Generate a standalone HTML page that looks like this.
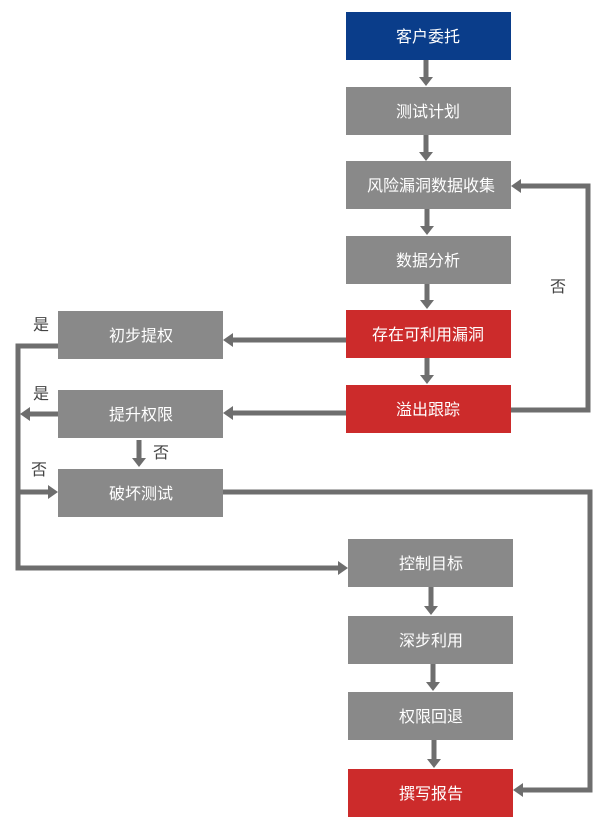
<!DOCTYPE html><html><head><meta charset="utf-8"><style>
body{margin:0;background:#fff}
svg text{font-family:"Liberation Sans","Noto Sans CJK SC",sans-serif;font-size:16px}
</style></head><body>
<svg width="612" height="832" xmlns="http://www.w3.org/2000/svg">
<g>
<rect x="346" y="12" width="165" height="48" fill="#0a3d8a"/>
<rect x="346" y="87" width="165" height="48" fill="#898989"/>
<rect x="346" y="161" width="165" height="48" fill="#898989"/>
<rect x="346" y="236" width="165" height="48" fill="#898989"/>
<rect x="346" y="310" width="165" height="48" fill="#cc2b2b"/>
<rect x="346" y="385" width="165" height="48" fill="#cc2b2b"/>
<rect x="58" y="311" width="165" height="48" fill="#898989"/>
<rect x="58" y="390" width="165" height="48" fill="#898989"/>
<rect x="58" y="469" width="165" height="48" fill="#898989"/>
<rect x="348" y="539" width="165" height="48" fill="#898989"/>
<rect x="348" y="616" width="165" height="48" fill="#898989"/>
<rect x="348" y="692" width="165" height="48" fill="#898989"/>
<rect x="348" y="769" width="165" height="48" fill="#cc2b2b"/>
</g>
<g fill="#fff" text-anchor="middle">
<text x="428" y="42">客户委托</text>
<text x="428" y="117">测试计划</text>
<text x="431" y="191">风险漏洞数据收集</text>
<text x="428" y="266">数据分析</text>
<text x="428" y="340">存在可利用漏洞</text>
<text x="428" y="415">溢出跟踪</text>
<text x="141" y="341">初步提权</text>
<text x="141" y="420">提升权限</text>
<text x="141" y="499">破坏测试</text>
<text x="431" y="569">控制目标</text>
<text x="431" y="646">深步利用</text>
<text x="431" y="722">权限回退</text>
<text x="431" y="799">撰写报告</text>
</g>
<g fill="#444">
<text x="550" y="292">否</text>
<text x="33" y="330">是</text>
<text x="33" y="399">是</text>
<text x="153" y="458">否</text>
<text x="31" y="475">否</text>
</g>
<g stroke="#6e6e6e" stroke-width="5" fill="none">
<line x1="426" y1="60" x2="426" y2="78"/>
<line x1="426" y1="135" x2="426" y2="153"/>
<line x1="427" y1="209" x2="427" y2="227"/>
<line x1="427" y1="284" x2="427" y2="301"/>
<line x1="427" y1="358" x2="427" y2="376"/>
<line x1="431" y1="587" x2="431" y2="607"/>
<line x1="433" y1="664" x2="433" y2="683"/>
<line x1="434" y1="740" x2="434" y2="760"/>
<line x1="139" y1="440" x2="139" y2="459"/>
<line x1="346" y1="340" x2="232" y2="340"/>
<line x1="346" y1="413" x2="232" y2="413"/>
<polyline points="511,410 588,410 588,186 520,186"/>
<polyline points="58,346 18,346 18,568 339,568"/>
<line x1="58" y1="414" x2="29" y2="414"/>
<line x1="18" y1="492" x2="49" y2="492"/>
<polyline points="223,492 590,492 590,790 522,790"/>
</g>
<g fill="#6e6e6e">
<polygon points="419,77 433,77 426,86"/>
<polygon points="419,152 433,152 426,161"/>
<polygon points="420,226 434,226 427,235"/>
<polygon points="420,300 434,300 427,309"/>
<polygon points="420,375 434,375 427,384"/>
<polygon points="424,606 438,606 431,615"/>
<polygon points="426,682 440,682 433,691"/>
<polygon points="427,759 441,759 434,768"/>
<polygon points="132,458 146,458 139,467"/>
<polygon points="233,333 233,347 223,340"/>
<polygon points="233,406 233,420 223,413"/>
<polygon points="521,179 521,193 511,186"/>
<polygon points="338,561 338,575 348,568"/>
<polygon points="30,407 30,421 20,414"/>
<polygon points="48,485 48,499 58,492"/>
<polygon points="523,783 523,797 513,790"/>
</g>
</svg>
</body></html>
